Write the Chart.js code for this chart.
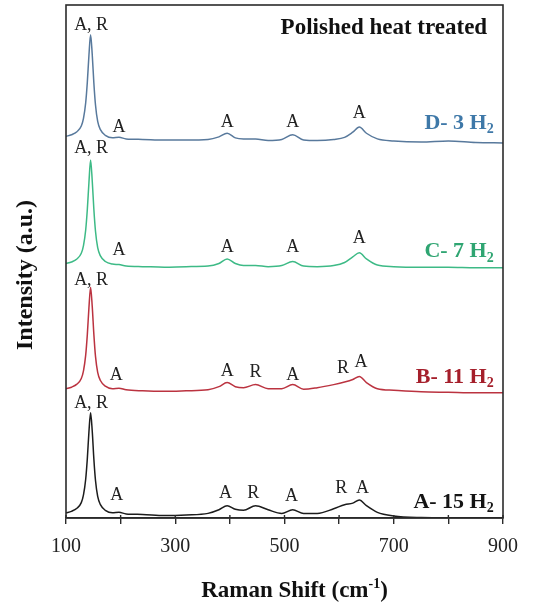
<!DOCTYPE html>
<html>
<head>
<meta charset="utf-8">
<script src="https://cdn.jsdelivr.net/npm/chart.js@4/dist/chart.umd.min.js"></script>
<style>
  html, body { margin: 0; padding: 0; background: #fff; }
  #wrap { width: 540px; height: 609px; }
</style>
</head>
<body>
<div id="wrap"><canvas id="c" width="540" height="609"></canvas></div>
<script>
// Raman shift (cm-1) sample positions shared by all spectra
const ramanShift = [100,110,120,128,132,136,139,142,145,148,151,154,158,163,172,185,
  197,210,240,280,320,360,380,395,410,425,447,470,495,515,535,560,590,610,625,637,650,670,700,750,800,850,900];

// Stacked intensities (a.u.), one spectrum per H2 condition
const specA15 = [1.0,1.3,1.9,3.0,4.5,7.5,11.5,16.8,20.5,17.0,11.5,7.3,4.2,2.6,1.5,1.0,
  1.1,0.8,0.7,0.5,0.6,0.9,1.6,2.4,1.7,1.5,2.4,1.6,0.9,1.6,0.9,0.9,1.8,2.6,2.9,3.5,2.4,1.1,0.4,0.1,0.05,0.05,0.05];
const specB11 = [25.2,25.5,26.1,27.2,28.7,31.7,35.7,41.0,45.0,41.3,35.8,31.5,28.4,26.8,25.7,25.2,
  25.3,25.0,24.8,24.7,24.8,25.0,25.6,26.4,25.6,25.4,26.0,25.2,25.2,26.0,25.1,25.4,26.0,26.5,27.0,27.6,26.4,25.2,24.9,24.6,24.5,24.4,24.4];
const specC7 = [49.6,49.9,50.5,51.6,53.1,56.1,60.1,65.4,69.8,65.8,60.2,55.9,52.7,51.1,50.0,49.5,
  49.4,49.1,49.0,48.9,49.0,49.1,49.6,50.5,49.6,49.2,49.2,49.0,49.2,50.0,49.1,49.0,49.2,49.8,50.9,51.7,50.5,49.3,49.0,48.9,48.9,48.8,48.8];
const specD3 = [74.4,74.7,75.3,76.4,77.9,80.9,84.9,90.2,94.2,90.4,84.8,80.5,77.3,75.7,74.6,74.1,
  74.2,73.9,73.8,73.7,73.7,73.8,74.3,75.0,74.1,73.9,73.9,73.6,73.8,74.7,73.7,73.6,73.8,74.2,75.2,76.2,75.0,73.9,73.5,73.3,73.5,73.2,73.1];

// Phase assignments (A = anatase, R = rutile): [text, shift, intensity]
const peaksA15 = [['A, R',146,22.4],['A',193,4.5],['A',392,4.9],['R',443,4.9],['A',513,4.3],['R',604,5.8],['A',643,5.8]];
const peaksB11 = [['A, R',146,46.4],['A',192,27.9],['A',395,28.7],['R',447,28.5],['A',515,27.9],['R',607,29.2],['A',640,30.4]];
const peaksC7  = [['A, R',146,72.1],['A',197,52.2],['A',395,52.8],['A',515,52.8],['A',637,54.6]];
const peaksD3  = [['A, R',146,96.1],['A',197,76.2],['A',395,77.2],['A',515,77.2],['A',637,78.9]];

// Sample names, anchored at the right end of each trace: [name, subscript, intensity]
const sampleNames = [['A- 15 H','2',3.1],['B- 11 H','2',27.5],['C- 7 H','2',51.9],['D- 3 H','2',77.0]];
const sampleColors = ['#141414','#a51f2b','#2fa572','#3e78a8'];
const lineColors = ['#1c1c1c','#bb3340','#3dba86','#58799c'];

const xTicks = [100,300,500,700,900];

const SERIF = '"Liberation Serif","Times New Roman",serif';

function richWidth(ctx, segs, size) {
  let w = 0;
  for (const s of segs) {
    ctx.font = 'bold ' + Math.round(s.script ? size * 0.62 : size) + 'px ' + SERIF;
    w += ctx.measureText(s.t).width;
  }
  return w;
}
function drawRich(ctx, segs, x, y, size, align, color) {
  const total = richWidth(ctx, segs, size);
  let cx = align === 'right' ? x - total : align === 'center' ? x - total / 2 : x;
  ctx.fillStyle = color;
  ctx.textBaseline = 'middle';
  ctx.textAlign = 'left';
  for (const s of segs) {
    const fs = s.script ? size * 0.62 : size;
    ctx.font = 'bold ' + Math.round(fs) + 'px ' + SERIF;
    let dy = 0;
    if (s.script === 'sub') dy = size * 0.28;
    if (s.script === 'sup') dy = -size * 0.3;
    ctx.fillText(s.t, cx, y + dy);
    cx += ctx.measureText(s.t).width;
  }
}

const annotate = {
  id: 'annotate',
  afterDatasetsDraw(chart) {
    const { ctx, chartArea: a, scales: { x, y } } = chart;
    ctx.save();
    // frame
    ctx.strokeStyle = '#2b2b2b';
    ctx.lineWidth = 1.6;
    ctx.strokeRect(a.left, a.top, a.right - a.left, a.bottom - a.top);

    // short inward tick stubs on the bottom axis
    ctx.lineWidth = 1.4;
    ctx.beginPath();
    for (let v = 100; v <= 900; v += 100) {
      const px = x.getPixelForValue(v);
      ctx.moveTo(px, a.bottom);
      ctx.lineTo(px, a.bottom - 3);
    }
    ctx.stroke();

    // peak assignments
    ctx.fillStyle = '#222';
    ctx.font = '18px ' + SERIF;
    ctx.textAlign = 'center';
    ctx.textBaseline = 'middle';
    for (const group of [peaksA15, peaksB11, peaksC7, peaksD3]) {
      for (const [t, sx, iy] of group) {
        ctx.fillText(t, x.getPixelForValue(sx), y.getPixelForValue(iy));
      }
    }

    // sample names
    sampleNames.forEach(([name, sub, iy], i) => {
      drawRich(ctx, [{ t: name }, { t: sub, script: 'sub' }],
        x.getPixelForValue(883), y.getPixelForValue(iy), 22, 'right', sampleColors[i]);
    });

    // panel title
    drawRich(ctx, [{ t: 'Polished heat treated' }], x.getPixelForValue(871), y.getPixelForValue(95.5), 23, 'right', '#111');

    // axis titles
    drawRich(ctx, [{ t: 'Raman Shift (cm' }, { t: '-1', script: 'sup' }, { t: ')' }],
      (a.left + a.right) / 2 + 10, 591, 23, 'center', '#111');
    ctx.translate(26, 275);
    ctx.rotate(-Math.PI / 2);
    drawRich(ctx, [{ t: 'Intensity (a.u.)' }], 0, 0, 24, 'center', '#111');
    ctx.restore();
  }
};

const pts = arr => ramanShift.map((s, i) => ({ x: s, y: arr[i] }));
const series = [specA15, specB11, specC7, specD3];
const names = ['A- 15 H2', 'B- 11 H2', 'C- 7 H2', 'D- 3 H2'];

new Chart(document.getElementById('c'), {
  type: 'line',
  data: {
    datasets: series.map((arr, i) => ({
      label: names[i],
      data: pts(arr),
      borderColor: lineColors[i],
      borderWidth: 1.5,
      pointRadius: 0,
      fill: false,
      cubicInterpolationMode: 'monotone'
    }))
  },
  options: {
    responsive: false,
    animation: false,
    layout: { padding: { top: 5, right: 37, left: 0, bottom: 0 } },
    plugins: { legend: { display: false }, tooltip: { enabled: false } },
    scales: {
      x: {
        type: 'linear', min: 100, max: 900,
        afterFit(s) { s.height = 91; },
        afterBuildTicks(s) { s.ticks = [100,200,300,400,500,600,700,800,900].map(v => ({ value: v })); },
        ticks: {
          autoSkip: false, maxRotation: 0, padding: 11,
          color: '#222',
          font: { family: SERIF, size: 20 },
          callback: v => xTicks.includes(v) ? String(v) : ''
        },
        grid: { display: true, drawOnChartArea: false, drawTicks: true, tickLength: 6, color: '#2b2b2b', lineWidth: 1.4 },
        border: { display: true, color: '#2b2b2b', width: 1.6 }
      },
      y: {
        min: 0, max: 100,
        afterFit(s) { s.width = 66; },
        ticks: { display: false },
        grid: { display: false },
        border: { display: false }
      }
    }
  },
  plugins: [annotate]
});
</script>
</body>
</html>
